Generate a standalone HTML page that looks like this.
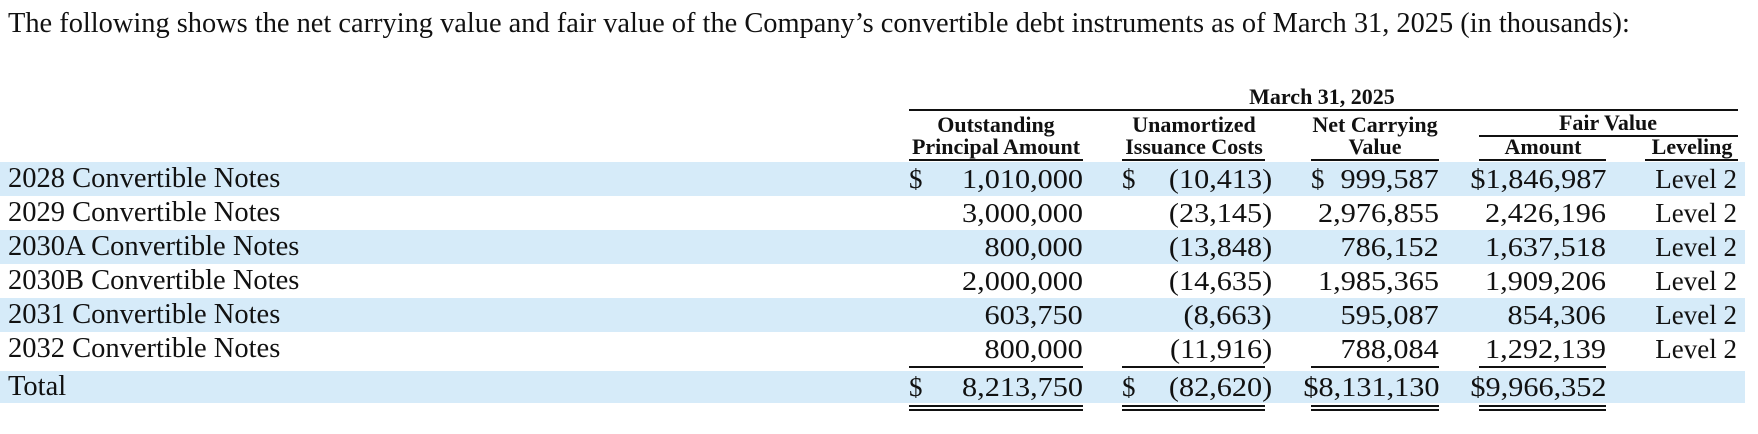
<!DOCTYPE html><html><head><style>
body{margin:0;width:1758px;height:434px;background:#fff;position:relative;overflow:hidden;font-family:"Liberation Serif",serif;color:#111;}
.a{position:absolute;white-space:nowrap}
.band{position:absolute;left:0;width:1745px;height:34px;background:#d6ebf9}
.r{position:absolute;font-size:27px;line-height:34px;white-space:nowrap}
.l{font-size:28.5px}
.n{transform:scaleX(1.12);transform-origin:right center}
.h{position:absolute;font-size:22px;font-weight:bold;line-height:22px;text-align:center;white-space:nowrap}
.ln{position:absolute;height:2px;background:#111}
</style></head><body>
<div class="a" style="left:8px;top:7px;font-size:28.4px;line-height:34px">The following shows the net carrying value and fair value of the Company’s convertible debt instruments as of March 31, 2025 (in thousands):</div>

<div class="band" style="top:162px"></div>
<div class="band" style="top:230px"></div>
<div class="band" style="top:298px"></div>
<div class="band" style="top:371px;height:32px"></div>

<div class="h" style="left:1222px;width:200px;top:86px">March 31, 2025</div>
<div class="ln" style="left:909px;width:829px;top:109px"></div>
<div class="h" style="left:896px;width:200px;top:114px">Outstanding<br>Principal Amount</div>
<div class="h" style="left:1094px;width:200px;top:114px">Unamortized<br>Issuance Costs</div>
<div class="h" style="left:1275px;width:200px;top:114px">Net Carrying<br>Value</div>
<div class="h" style="left:1508px;width:200px;top:112px">Fair Value</div>
<div class="ln" style="left:1479px;width:259px;top:135px"></div>
<div class="h" style="left:1443px;width:200px;top:136px">Amount</div>
<div class="h" style="left:1592px;width:200px;top:136px">Leveling</div>
<div class="ln" style="left:909px;width:174px;top:159px"></div>
<div class="ln" style="left:1122px;width:143px;top:159px"></div>
<div class="ln" style="left:1311px;width:128px;top:159px"></div>
<div class="ln" style="left:1479px;width:127px;top:159px"></div>
<div class="ln" style="left:1645px;width:93px;top:159px"></div>

<div class="ln" style="left:909px;width:174px;top:366px"></div>
<div class="ln" style="left:1122px;width:143px;top:366px"></div>
<div class="ln" style="left:1311px;width:128px;top:366px"></div>
<div class="ln" style="left:1479px;width:127px;top:366px"></div>
<div class="ln" style="left:909px;width:174px;top:405px"></div>
<div class="ln" style="left:1122px;width:143px;top:405px"></div>
<div class="ln" style="left:1311px;width:128px;top:405px"></div>
<div class="ln" style="left:1479px;width:127px;top:405px"></div>
<div class="ln" style="left:909px;width:174px;top:409px"></div>
<div class="ln" style="left:1122px;width:143px;top:409px"></div>
<div class="ln" style="left:1311px;width:128px;top:409px"></div>
<div class="ln" style="left:1479px;width:127px;top:409px"></div>

<div class="r l" style="left:8px;top:162px">2028 Convertible Notes</div>
<div class="r l" style="left:8px;top:196px">2029 Convertible Notes</div>
<div class="r l" style="left:8px;top:230px">2030A Convertible Notes</div>
<div class="r l" style="left:8px;top:264px">2030B Convertible Notes</div>
<div class="r l" style="left:8px;top:298px">2031 Convertible Notes</div>
<div class="r l" style="left:8px;top:332px">2032 Convertible Notes</div>
<div class="r l" style="left:8px;top:370px">Total</div>

<div class="r" style="left:909px;top:162px">$</div>
<div class="r" style="left:1122px;top:162px">$</div>
<div class="r" style="left:1311px;top:162px">$</div>
<div class="r" style="left:909px;top:370px">$</div>
<div class="r" style="left:1122px;top:370px">$</div>

<div class="r n" style="right:675px;top:162px">1,010,000</div>
<div class="r n" style="right:675px;top:196px">3,000,000</div>
<div class="r n" style="right:675px;top:230px">800,000</div>
<div class="r n" style="right:675px;top:264px">2,000,000</div>
<div class="r n" style="right:675px;top:298px">603,750</div>
<div class="r n" style="right:675px;top:332px">800,000</div>
<div class="r n" style="right:675px;top:370px">8,213,750</div>
<div class="r n" style="right:486px;top:162px">(10,413)</div>
<div class="r n" style="right:486px;top:196px">(23,145)</div>
<div class="r n" style="right:486px;top:230px">(13,848)</div>
<div class="r n" style="right:486px;top:264px">(14,635)</div>
<div class="r n" style="right:486px;top:298px">(8,663)</div>
<div class="r n" style="right:486px;top:332px">(11,916)</div>
<div class="r n" style="right:486px;top:370px">(82,620)</div>
<div class="r n" style="right:319px;top:162px">999,587</div>
<div class="r n" style="right:319px;top:196px">2,976,855</div>
<div class="r n" style="right:319px;top:230px">786,152</div>
<div class="r n" style="right:319px;top:264px">1,985,365</div>
<div class="r n" style="right:319px;top:298px">595,087</div>
<div class="r n" style="right:319px;top:332px">788,084</div>
<div class="r n" style="right:319px;top:370px">$8,131,130</div>
<div class="r n" style="right:152px;top:162px">$1,846,987</div>
<div class="r n" style="right:152px;top:196px">2,426,196</div>
<div class="r n" style="right:152px;top:230px">1,637,518</div>
<div class="r n" style="right:152px;top:264px">1,909,206</div>
<div class="r n" style="right:152px;top:298px">854,306</div>
<div class="r n" style="right:152px;top:332px">1,292,139</div>
<div class="r n" style="right:152px;top:370px">$9,966,352</div>
<div class="r" style="right:21px;top:162px">Level 2</div>
<div class="r" style="right:21px;top:196px">Level 2</div>
<div class="r" style="right:21px;top:230px">Level 2</div>
<div class="r" style="right:21px;top:264px">Level 2</div>
<div class="r" style="right:21px;top:298px">Level 2</div>
<div class="r" style="right:21px;top:332px">Level 2</div>
</body></html>
